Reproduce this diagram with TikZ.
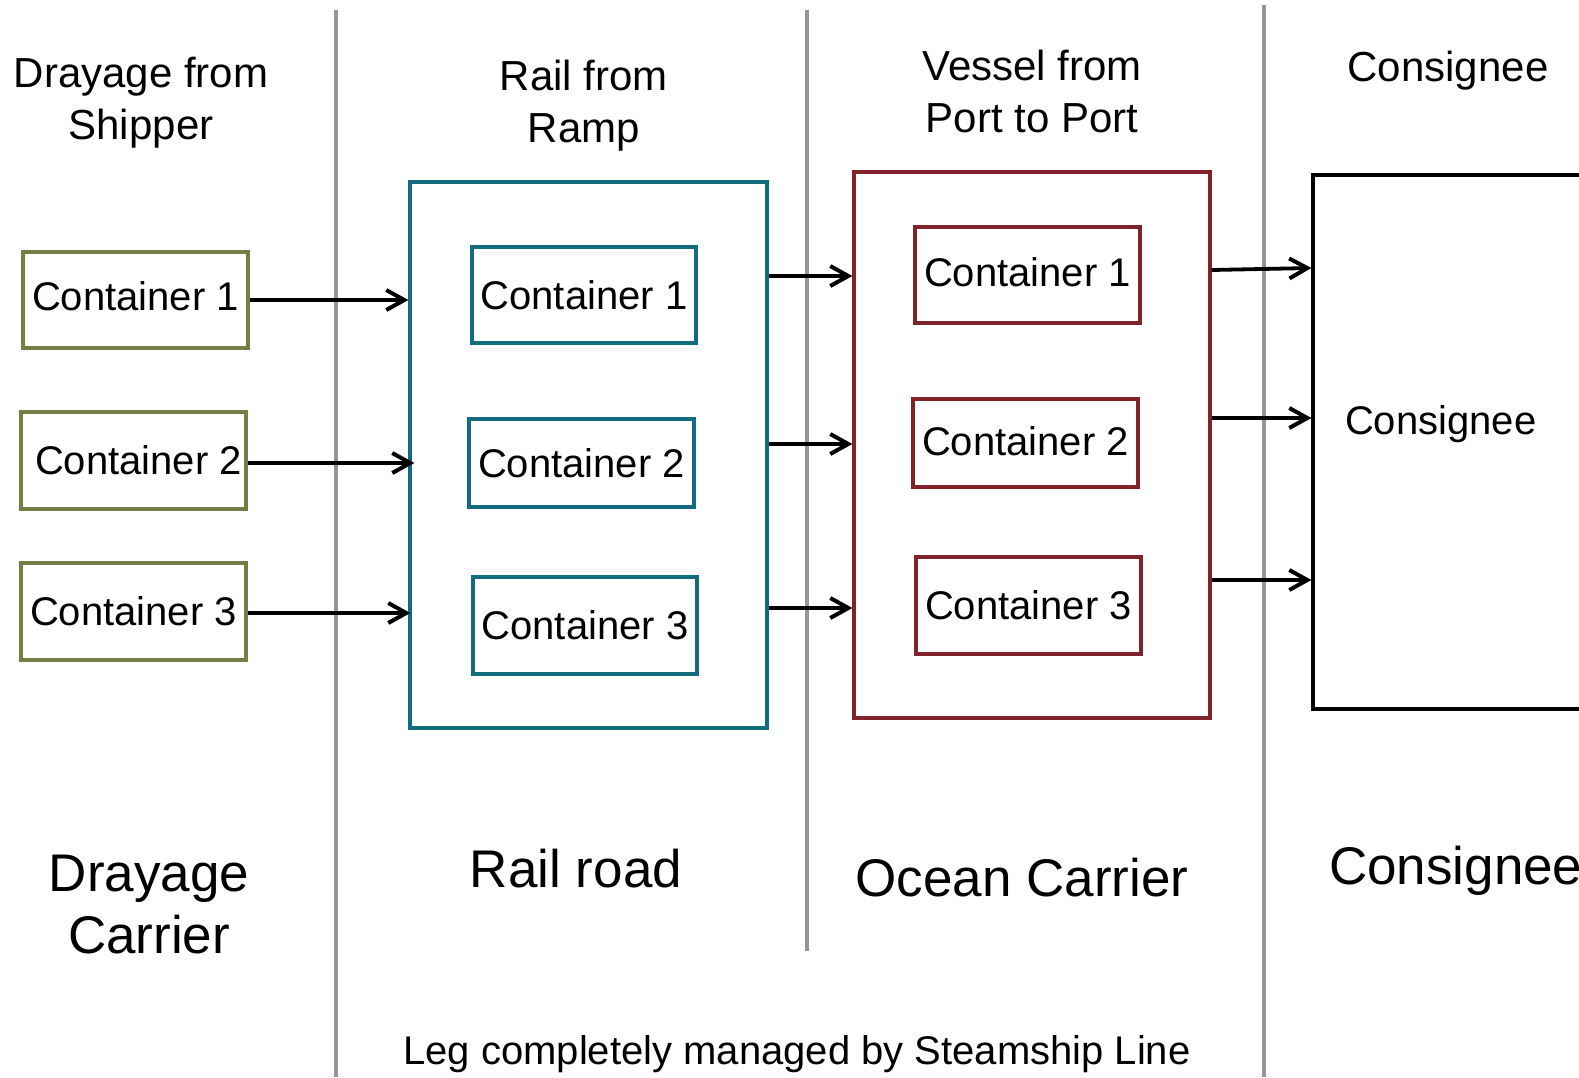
\documentclass[tikz,border=0pt]{standalone}
\usepackage{fontspec}
\setmainfont{Liberation Sans}
\usetikzlibrary{arrows.meta}
\definecolor{olivec}{RGB}{120,125,70}
\definecolor{tealc}{RGB}{16,108,126}
\definecolor{redc}{RGB}{128,36,42}
\definecolor{grayc}{RGB}{150,150,150}
\tikzset{
  cbox/.style={draw=#1, line width=1.6pt, rectangle, inner sep=0pt,
    font=\fontsize{20}{24}\selectfont, text=black},
  bigbox/.style={draw=#1, line width=1.6pt, rectangle, inner sep=0pt},
  arr/.style={-{Straight Barb[length=9pt,width=10pt,line width=2pt]}, line width=1.9pt, black},
  divider/.style={draw=grayc, line width=1.6pt},
  head/.style={align=center, font=\fontsize{21}{26}\selectfont},
  big/.style={align=center, font=\fontsize{26.5}{31}\selectfont},
}
\begin{document}
\begin{tikzpicture}[x=0.5pt,y=-0.5pt]
\clip (0,0) rectangle (1579,1077);
\fill[white] (0,0) rectangle (1579,1077);
% dividers
\coordinate (d1t) at (336,10);  \coordinate (d1b) at (336,1077);
\coordinate (d2t) at (807,10);  \coordinate (d2b) at (807,951);
\coordinate (d3t) at (1264,5);  \coordinate (d3b) at (1264,1077);
\draw[divider] (d1t) -- (d1b);
\draw[divider] (d2t) -- (d2b);
\draw[divider] (d3t) -- (d3b);
% drayage containers
\node[cbox=olivec, minimum width=112.5pt, minimum height=48pt] (G1) at (135.5,300) {\raisebox{4pt}{Container 1}};
\node[cbox=olivec, minimum width=112.5pt, minimum height=48.5pt] (G2) at (133.5,460.5) {\hspace*{5pt}Container 2};
\node[cbox=olivec, minimum width=112.5pt, minimum height=48.5pt] (G3) at (133.5,611.5) {Container 3};
% rail
\node[bigbox=tealc, minimum width=178.5pt, minimum height=273pt] (T) at (588.5,455) {};
\node[cbox=tealc, minimum width=112pt, minimum height=48pt] (T1) at (584,295) {Container 1};
\node[cbox=tealc, minimum width=112.5pt, minimum height=44pt] (T2) at (581.5,463) {Container 2};
\node[cbox=tealc, minimum width=112pt, minimum height=48.5pt] (T3) at (585,625.5) {Container 3};
% ocean
\node[bigbox=redc, minimum width=178pt, minimum height=273pt] (R) at (1032,445) {};
\node[cbox=redc, minimum width=112.5pt, minimum height=48pt] (R1) at (1027.5,275) {\raisebox{3pt}{Container 1}};
\node[cbox=redc, minimum width=112.5pt, minimum height=44pt] (R2) at (1025.5,443) {\raisebox{2pt}{Container 2}};
\node[cbox=redc, minimum width=112.5pt, minimum height=48.5pt] (R3) at (1028.5,605.5) {Container 3};
% consignee
\node[bigbox=black, minimum width=143.5pt, minimum height=267pt] (K) at (1456.5,442) {};
\node[font=\fontsize{20}{24}\selectfont, anchor=west] (Klab) at (1338,424) {Consignee};
% arrows
\draw[arr] (G1.east) -- (T.west |- G1.east);
\draw[arr] (G2.east |- 0,463) -- ([xshift=3pt]T.west |- 0,463);
\draw[arr] (G3.east |- 0,613) -- ([xshift=1pt]T.west |- 0,613);
\draw[arr] (T.east |- 0,276) -- (R.west |- 0,276);
\draw[arr] (T.east |- 0,444) -- (R.west |- 0,444);
\draw[arr] (T.east |- 0,608) -- (R.west |- 0,608);
\draw[arr] (R.east |- 0,270) -- (K.west |- 0,268);
\draw[arr] (R.east |- 0,418) -- (K.west |- 0,418);
\draw[arr] (R.east |- 0,580) -- (K.west |- 0,580);
% headers
\node[head] (h1) at (141,103) {Drayage from\\Shipper};
\node[head] (h2) at (584,106) {Rail from\\Ramp};
\node[head] (h3) at (1032,91) {Vessel from\\Port to Port};
\node[head] (h4) at (1448,71) {Consignee};
% bottom labels
\node[big] (b1) at (149,905) {Drayage\\Carrier};
\node[big] (b2) at (576,869) {Rail road};
\node[big] (b3) at (1022,878) {Ocean Carrier};
\node[big, anchor=west] (b4) at (1322,871) {Consignee};
\node[font=\fontsize{20}{24}\selectfont] (leg) at (797,1054) {Leg completely managed by Steamship Line};
\end{tikzpicture}
\end{document}
